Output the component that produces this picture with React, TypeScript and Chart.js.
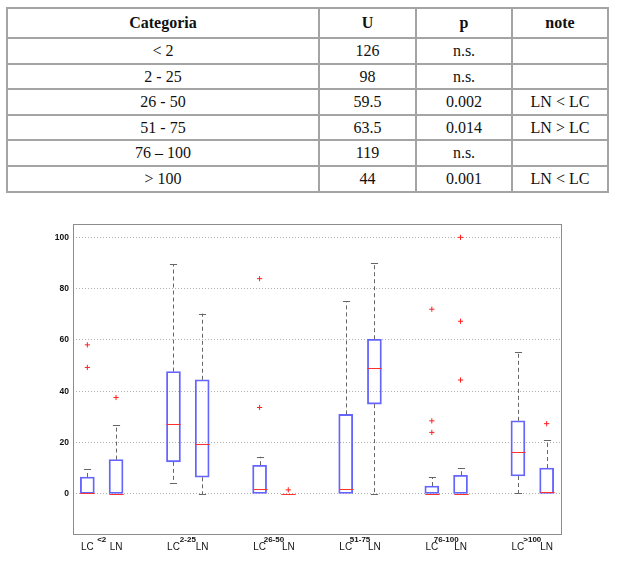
import React, { useEffect, useRef } from "react";
import { Chart, registerables } from "chart.js";

Chart.register(...registerables);

// ---- Table data ----
const tableHeaders = ["Categoria", "U", "p", "note"];
const tableCategories = ["< 2", "2 - 25", "26 - 50", "51 - 75", "76 \u2013 100", "> 100"];
const uValues = ["126", "98", "59.5", "63.5", "119", "44"];
const pValues = ["n.s.", "n.s.", "0.002", "0.014", "n.s.", "0.001"];
const notes = ["", "", "LN < LC", "LN > LC", "", "LN < LC"];

// ---- Box plot data ----
const categories = ["<2", "2-25", "26-50", "51-75", "76-100", ">100"];
const groupLabels = ["LC", "LN"];
const positions = [1, 2, 4, 5, 7, 8, 10, 11, 13, 14, 16, 17];
const q1 = [0, 0, 12.5, 6.5, 0, 0, 0, 35, 0, 0, 7, 0];
const q3 = [6.6, 13.4, 47.7, 44.5, 11.2, 0, 31, 60.3, 3.1, 7.3, 28.5, 10.1];
const medians = [0.5, 0, 27.2, 19.5, 1.9, 0, 2.1, 49, 0, 0, 16.5, 0.6];
const whiskerLow = [0, 0, 4.3, 0, 0, 0, 0, 0, 0, 0, 0.4, 0];
const whiskerHigh = [9.7, 26.7, 89.5, 70.3, 14.5, 0, 75.2, 90, 6.5, 10, 55.3, 21];
const outlierBox = [0, 0, 1, 4, 4, 5, 8, 8, 8, 9, 9, 9, 11];
const outlierValues = [58.1, 49.3, 37.6, 83.9, 33.7, 1.6, 72, 28.5, 24, 100, 67.3, 44.4, 27.4];
const yTicks = [0, 20, 40, 60, 80, 100];

const FONT = "'Liberation Sans', Arial, Helvetica, sans-serif";

const boxPlugin = {
  id: "boxExtras",
  afterDatasetsDraw(chart: any) {
    const { ctx } = chart;
    const xs = chart.scales.x;
    const ys = chart.scales.y;
    const unit = xs.getPixelForValue(2) - xs.getPixelForValue(1);
    const capHalf = unit * 0.125;
    const boxHalf = unit * 0.25;
    ctx.save();
    for (let i = 0; i < positions.length; i++) {
      const x = Math.round(xs.getPixelForValue(positions[i])) + 0.5;
      ctx.strokeStyle = "#666666";
      ctx.lineWidth = 1;
      if (whiskerHigh[i] > q3[i]) {
        ctx.setLineDash([4, 3]);
        ctx.beginPath();
        ctx.moveTo(x, ys.getPixelForValue(q3[i]));
        ctx.lineTo(x, ys.getPixelForValue(whiskerHigh[i]));
        ctx.stroke();
        ctx.setLineDash([]);
        ctx.beginPath();
        const yy = Math.round(ys.getPixelForValue(whiskerHigh[i])) + 0.5;
        ctx.moveTo(x - capHalf, yy);
        ctx.lineTo(x + capHalf, yy);
        ctx.stroke();
      }
      if (whiskerLow[i] < q1[i]) {
        ctx.setLineDash([4, 3]);
        ctx.beginPath();
        ctx.moveTo(x, ys.getPixelForValue(q1[i]));
        ctx.lineTo(x, ys.getPixelForValue(whiskerLow[i]));
        ctx.stroke();
        ctx.setLineDash([]);
        ctx.beginPath();
        const yy = Math.round(ys.getPixelForValue(whiskerLow[i])) + 0.5;
        ctx.moveTo(x - capHalf, yy);
        ctx.lineTo(x + capHalf, yy);
        ctx.stroke();
      }
      ctx.setLineDash([]);
      ctx.strokeStyle = "#ff3030";
      ctx.lineWidth = 1;
      ctx.beginPath();
      const ym = Math.round(ys.getPixelForValue(medians[i])) + 0.5;
      ctx.moveTo(x - boxHalf, ym);
      ctx.lineTo(x + boxHalf, ym);
      ctx.stroke();
    }
    ctx.restore();
  },
  afterDraw(chart: any) {
    const { ctx, chartArea } = chart;
    const xs = chart.scales.x;
    ctx.save();
    ctx.strokeStyle = "#8c8c8c";
    ctx.lineWidth = 1;
    ctx.strokeRect(
      Math.round(chartArea.left) + 0.5,
      Math.round(chartArea.top) + 0.5,
      Math.round(chartArea.right - chartArea.left),
      Math.round(chartArea.bottom - chartArea.top)
    );
    ctx.fillStyle = "#111111";
    ctx.font = `bold 8px ${FONT}`;
    ctx.textAlign = "center";
    ctx.textBaseline = "middle";
    for (let g = 0; g < categories.length; g++) {
      const mid = (positions[2 * g] + positions[2 * g + 1]) / 2;
      ctx.fillText(categories[g], xs.getPixelForValue(mid), chartArea.bottom + 5.5);
    }
    ctx.restore();
  },
};

function BoxChart() {
  const ref = useRef<HTMLCanvasElement | null>(null);
  useEffect(() => {
    if (!ref.current) return;
    const chart = new Chart(ref.current, {
      type: "bar",
      data: {
        datasets: [
          {
            type: "bar",
            data: positions.map((p, i) => ({ x: p, y: [q1[i], q3[i]] })) as any,
            backgroundColor: "rgba(0,0,0,0)",
            borderColor: "#6464ff",
            borderWidth: 1.2,
            borderSkipped: false,
            barThickness: 14,
          } as any,
          {
            type: "scatter",
            data: outlierBox.map((b, i) => ({ x: positions[b], y: outlierValues[i] })),
            pointStyle: "cross",
            radius: 2.6,
            borderColor: "#ff2020",
            borderWidth: 1,
            showLine: false,
          } as any,
        ],
      },
      options: {
        responsive: false,
        animation: false,
        layout: { padding: { left: 0, top: 24, right: 58, bottom: 0 } },
        plugins: { legend: { display: false }, tooltip: { enabled: false } },
        scales: {
          x: {
            type: "linear",
            min: 0.5,
            max: 17.5,
            offset: false,
            grid: { display: false, drawTicks: false },
            border: { display: false },
            afterBuildTicks: (scale: any) => {
              scale.ticks = positions.map((v) => ({ value: v }));
            },
            afterFit: (scale: any) => {
              scale.height = 41;
            },
            ticks: {
              autoSkip: false,
              maxRotation: 0,
              padding: 7,
              color: "#111111",
              font: { family: FONT, size: 10 },
              callback: (v: any) => {
                const idx = positions.indexOf(Number(v));
                return idx >= 0 ? groupLabels[idx % 2] : "";
              },
            },
          },
          y: {
            type: "linear",
            min: -15.6,
            max: 105.2,
            grid: { color: "#b0b0b0", lineWidth: 1, drawTicks: false },
            border: { display: false, dash: [1, 2] },
            afterBuildTicks: (scale: any) => {
              scale.ticks = yTicks.map((v) => ({ value: v }));
            },
            afterFit: (scale: any) => {
              scale.width = 73;
            },
            ticks: {
              padding: 4,
              color: "#111111",
              font: { family: FONT, size: 8.5, weight: "bold" },
            },
          },
        },
      } as any,
      plugins: [boxPlugin],
    });
    return () => chart.destroy();
  }, []);
  return <canvas ref={ref} width={619} height={375} style={{ display: "block" }} />;
}

export default function App() {
  const border = "2px solid #a4a4a4";
  const cell: React.CSSProperties = {
    border,
    textAlign: "center",
    verticalAlign: "middle",
    padding: 0,
  };
  const rowHeights = [26, 25, 26, 25, 26, 26];
  return (
    <div>
      <table
        style={{
          position: "absolute",
          left: 6,
          top: 7,
          width: 601,
          borderCollapse: "collapse",
          tableLayout: "fixed",
          fontFamily: "'Liberation Serif', 'Times New Roman', serif",
          fontSize: 16,
          color: "#111",
        }}
      >
        <colgroup>
          <col style={{ width: 312 }} />
          <col style={{ width: 97 }} />
          <col style={{ width: 96 }} />
          <col style={{ width: 96 }} />
        </colgroup>
        <thead>
          <tr style={{ height: 30 }}>
            {tableHeaders.map((h) => (
              <th key={h} style={{ ...cell, fontWeight: "bold" }}>
                {h}
              </th>
            ))}
          </tr>
        </thead>
        <tbody>
          {tableCategories.map((c, i) => (
            <tr key={c} style={{ height: rowHeights[i] }}>
              <td style={cell}>{c}</td>
              <td style={cell}>{uValues[i]}</td>
              <td style={cell}>{pValues[i]}</td>
              <td style={cell}>{notes[i]}</td>
            </tr>
          ))}
        </tbody>
      </table>
      <div style={{ position: "absolute", left: 0, top: 200, width: 619, height: 375 }}>
        <BoxChart />
      </div>
    </div>
  );
}
